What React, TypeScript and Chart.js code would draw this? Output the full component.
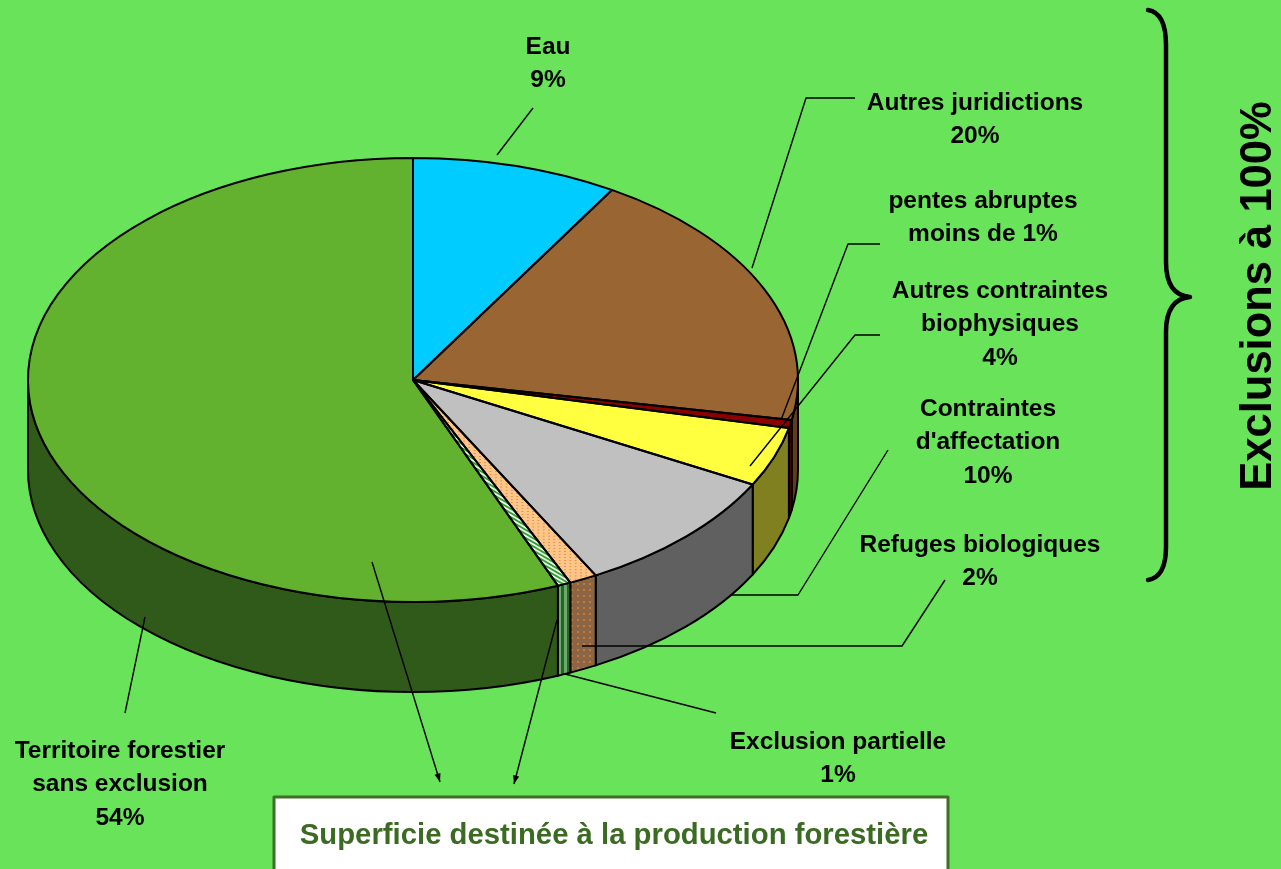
import React, { useEffect, useRef } from "react";
import { Chart, registerables } from "chart.js";

Chart.register(...registerables);

// ---- data ----
const categories = [
  "Eau",
  "Autres juridictions",
  "pentes abruptes",
  "Autres contraintes biophysiques",
  "Contraintes d'affectation",
  "Refuges biologiques",
  "Exclusion partielle",
  "Territoire forestier sans exclusion",
];
const values = [8.64, 19.25, 0.58, 4.33, 9.33, 1.17, 0.56, 56.14];
const labelLines = [
  ["Eau", "9%"],
  ["Autres juridictions", "20%"],
  ["pentes abruptes", "moins de 1%"],
  ["Autres contraintes", "biophysiques", "4%"],
  ["Contraintes", "d'affectation", "10%"],
  ["Refuges biologiques", "2%"],
  ["Exclusion partielle", "1%"],
  ["Territoire forestier", "sans exclusion", "54%"],
];
const sideTitle = "Exclusions à 100%";
const boxTitle = "Superficie destinée à la production forestière";

// ---- styles / layout ----
const W = 1281;
const H = 869;
const BG = "#69E35A";
const CX = 413;
const CY = 380;
const RX = 385;
const RY = 222;
const DEPTH = 90;
const topColors = ["#00CCFF", "#996633", "#8B0000", "#FFFF40", "#C0C0C0", "dots", "stripes", "#62B22F"];
const sideColors = ["#00667F", "#5E3D1E", "#5A0000", "#808020", "#606060", "dotsSide", "stripesSide", "#2F5A1A"];
const labelPos = [
  [548, 47],
  [975, 103],
  [983, 201],
  [1000, 291],
  [988, 409],
  [980, 545],
  [838, 742],
  [120, 751],
];
const leaders = [
  [[533, 108], [497, 155]],
  [[855, 98], [806, 98], [752, 268]],
  [[880, 244], [848, 244], [781, 420]],
  [[880, 335], [855, 335], [750, 466]],
  [[888, 450], [798, 595], [731, 595]],
  [[945, 580], [902, 646], [582, 646]],
  [[716, 713], [565, 674]],
  [[125, 713], [145, 617]],
];
const arrows = [
  [[372, 562], [440, 782]],
  [[557, 620], [514, 784]],
];
const FONT = '"Liberation Sans", Arial, Helvetica, sans-serif';

function dotPattern(bg: string, dot: string) {
  const c = document.createElement("canvas");
  c.width = 6;
  c.height = 6;
  const g = c.getContext("2d")!;
  g.fillStyle = bg;
  g.fillRect(0, 0, 6, 6);
  g.fillStyle = dot;
  g.fillRect(1, 1, 2, 2);
  return g.createPattern(c, "repeat")!;
}
function diagPattern(a: string, b: string) {
  const c = document.createElement("canvas");
  c.width = 8;
  c.height = 8;
  const g = c.getContext("2d")!;
  g.fillStyle = a;
  g.fillRect(0, 0, 8, 8);
  g.strokeStyle = b;
  g.lineWidth = 3;
  g.beginPath();
  g.moveTo(-2, -2);
  g.lineTo(10, 10);
  g.moveTo(-6, 2);
  g.lineTo(2, 10);
  g.moveTo(6, -2);
  g.lineTo(10, 2);
  g.stroke();
  return g.createPattern(c, "repeat")!;
}
function vStripePattern(a: string, b: string) {
  const c = document.createElement("canvas");
  c.width = 6;
  c.height = 4;
  const g = c.getContext("2d")!;
  g.fillStyle = a;
  g.fillRect(0, 0, 6, 4);
  g.fillStyle = b;
  g.fillRect(0, 0, 3, 4);
  return g.createPattern(c, "repeat")!;
}

function resolveFill(name: string): any {
  if (name === "dots") return dotPattern("#FFC68C", "#E8903C");
  if (name === "dotsSide") return dotPattern("#8C6644", "#C07A3A");
  if (name === "stripes") return diagPattern("#F4FFF0", "#2F9E2F");
  if (name === "stripesSide") return vStripePattern("#1F6A1F", "#6FA86F");
  return name;
}

function polyline(ctx: CanvasRenderingContext2D, pts: number[][]) {
  ctx.beginPath();
  ctx.moveTo(pts[0][0], pts[0][1]);
  for (let i = 1; i < pts.length; i++) ctx.lineTo(pts[i][0], pts[i][1]);
  ctx.stroke();
}

export default function App() {
  const ref = useRef<HTMLCanvasElement>(null);

  useEffect(() => {
    const canvas = ref.current!;
    const topFills = topColors.map(resolveFill);
    const sideFills = sideColors.map(resolveFill);

    const pie3d = {
      id: "pie3d",
      beforeDraw(chart: any) {
        const ctx = chart.ctx as CanvasRenderingContext2D;
        ctx.save();
        ctx.fillStyle = BG;
        ctx.fillRect(0, 0, chart.width, chart.height);
        ctx.restore();
      },
      beforeDatasetsDraw(chart: any) {
        const ctx = chart.ctx as CanvasRenderingContext2D;
        const meta = chart.getDatasetMeta(0);
        // extruded side faces (front half only)
        meta.data.forEach((arc: any, i: number) => {
          const a1 = Math.max(arc.startAngle, 0);
          const a2 = Math.min(arc.endAngle, Math.PI);
          if (a2 <= a1) return;
          ctx.beginPath();
          ctx.ellipse(CX, CY, RX, RY, 0, a1, a2);
          ctx.ellipse(CX, CY + DEPTH, RX, RY, 0, a2, a1, true);
          ctx.closePath();
          ctx.fillStyle = sideFills[i];
          ctx.fill();
          ctx.lineWidth = 2;
          ctx.strokeStyle = "#000";
          ctx.lineJoin = "round";
          ctx.stroke();
        });
        const el = meta.data[0];
        ctx.save();
        ctx.translate(CX, CY);
        ctx.scale(RX / el.outerRadius, RY / el.outerRadius);
        ctx.translate(-el.x, -el.y);
      },
      afterDatasetsDraw(chart: any) {
        const ctx = chart.ctx as CanvasRenderingContext2D;
        ctx.restore();
        const meta = chart.getDatasetMeta(0);
        ctx.save();
        ctx.strokeStyle = "#000";
        ctx.lineWidth = 2;
        ctx.lineJoin = "round";
        meta.data.forEach((arc: any) => {
          ctx.beginPath();
          ctx.moveTo(CX, CY);
          ctx.ellipse(CX, CY, RX, RY, 0, arc.startAngle, arc.endAngle);
          ctx.closePath();
          ctx.stroke();
        });
        ctx.restore();
      },
      afterDraw(chart: any) {
        const ctx = chart.ctx as CanvasRenderingContext2D;
        ctx.save();
        // leader lines
        ctx.strokeStyle = "#000";
        ctx.lineWidth = 1.4;
        leaders.forEach((pts) => polyline(ctx, pts));
        // arrows
        arrows.forEach(([p0, p1]) => {
          polyline(ctx, [p0, p1]);
          const ang = Math.atan2(p1[1] - p0[1], p1[0] - p0[0]);
          ctx.beginPath();
          ctx.moveTo(p1[0], p1[1]);
          ctx.lineTo(p1[0] - 9 * Math.cos(ang - 0.35), p1[1] - 9 * Math.sin(ang - 0.35));
          ctx.lineTo(p1[0] - 9 * Math.cos(ang + 0.35), p1[1] - 9 * Math.sin(ang + 0.35));
          ctx.closePath();
          ctx.fillStyle = "#000";
          ctx.fill();
        });
        // labels
        ctx.fillStyle = "#000";
        ctx.textAlign = "center";
        ctx.textBaseline = "middle";
        ctx.font = `bold 24.5px ${FONT}`;
        labelLines.forEach((lines, i) => {
          const [x, y] = labelPos[i];
          lines.forEach((t, k) => ctx.fillText(t, x, y + k * 33.5));
        });
        // bracket
        ctx.lineWidth = 4.5;
        ctx.lineCap = "round";
        ctx.beginPath();
        ctx.moveTo(1148, 10);
        ctx.quadraticCurveTo(1166, 13, 1166, 45);
        ctx.lineTo(1166, 262);
        ctx.quadraticCurveTo(1166, 295, 1190, 297);
        ctx.quadraticCurveTo(1166, 299, 1166, 332);
        ctx.lineTo(1166, 547);
        ctx.quadraticCurveTo(1166, 577, 1148, 580);
        ctx.stroke();
        // vertical title
        ctx.save();
        ctx.translate(1259, 296);
        ctx.rotate(-Math.PI / 2);
        ctx.font = `bold 43.5px ${FONT}`;
        ctx.fillText(sideTitle, 0, 0);
        ctx.restore();
        // box
        ctx.fillStyle = "#FFFFFF";
        ctx.fillRect(274, 797, 674, 90);
        ctx.strokeStyle = "#3E7027";
        ctx.lineWidth = 3;
        ctx.strokeRect(274, 797, 674, 90);
        ctx.fillStyle = "#3B6B22";
        ctx.font = `bold 29.3px ${FONT}`;
        ctx.fillText(boxTitle, 614, 836);
        ctx.restore();
      },
    };

    const chart = new Chart(canvas, {
      type: "pie",
      data: {
        labels: categories,
        datasets: [
          {
            data: values,
            backgroundColor: topFills,
            borderWidth: 0,
            clip: false,
          } as any,
        ],
      },
      options: {
        responsive: false,
        animation: false,
        events: [],
        layout: { padding: 0 },
        plugins: {
          legend: { display: false },
          tooltip: { enabled: false },
        },
      },
      plugins: [pie3d as any],
    });
    return () => chart.destroy();
  }, []);

  return (
    <div style={{ position: "absolute", left: 0, top: 0, width: W, height: H, background: BG, overflow: "hidden" }}>
      <canvas ref={ref} width={W} height={H} style={{ display: "block", width: W, height: H }} />
    </div>
  );
}
